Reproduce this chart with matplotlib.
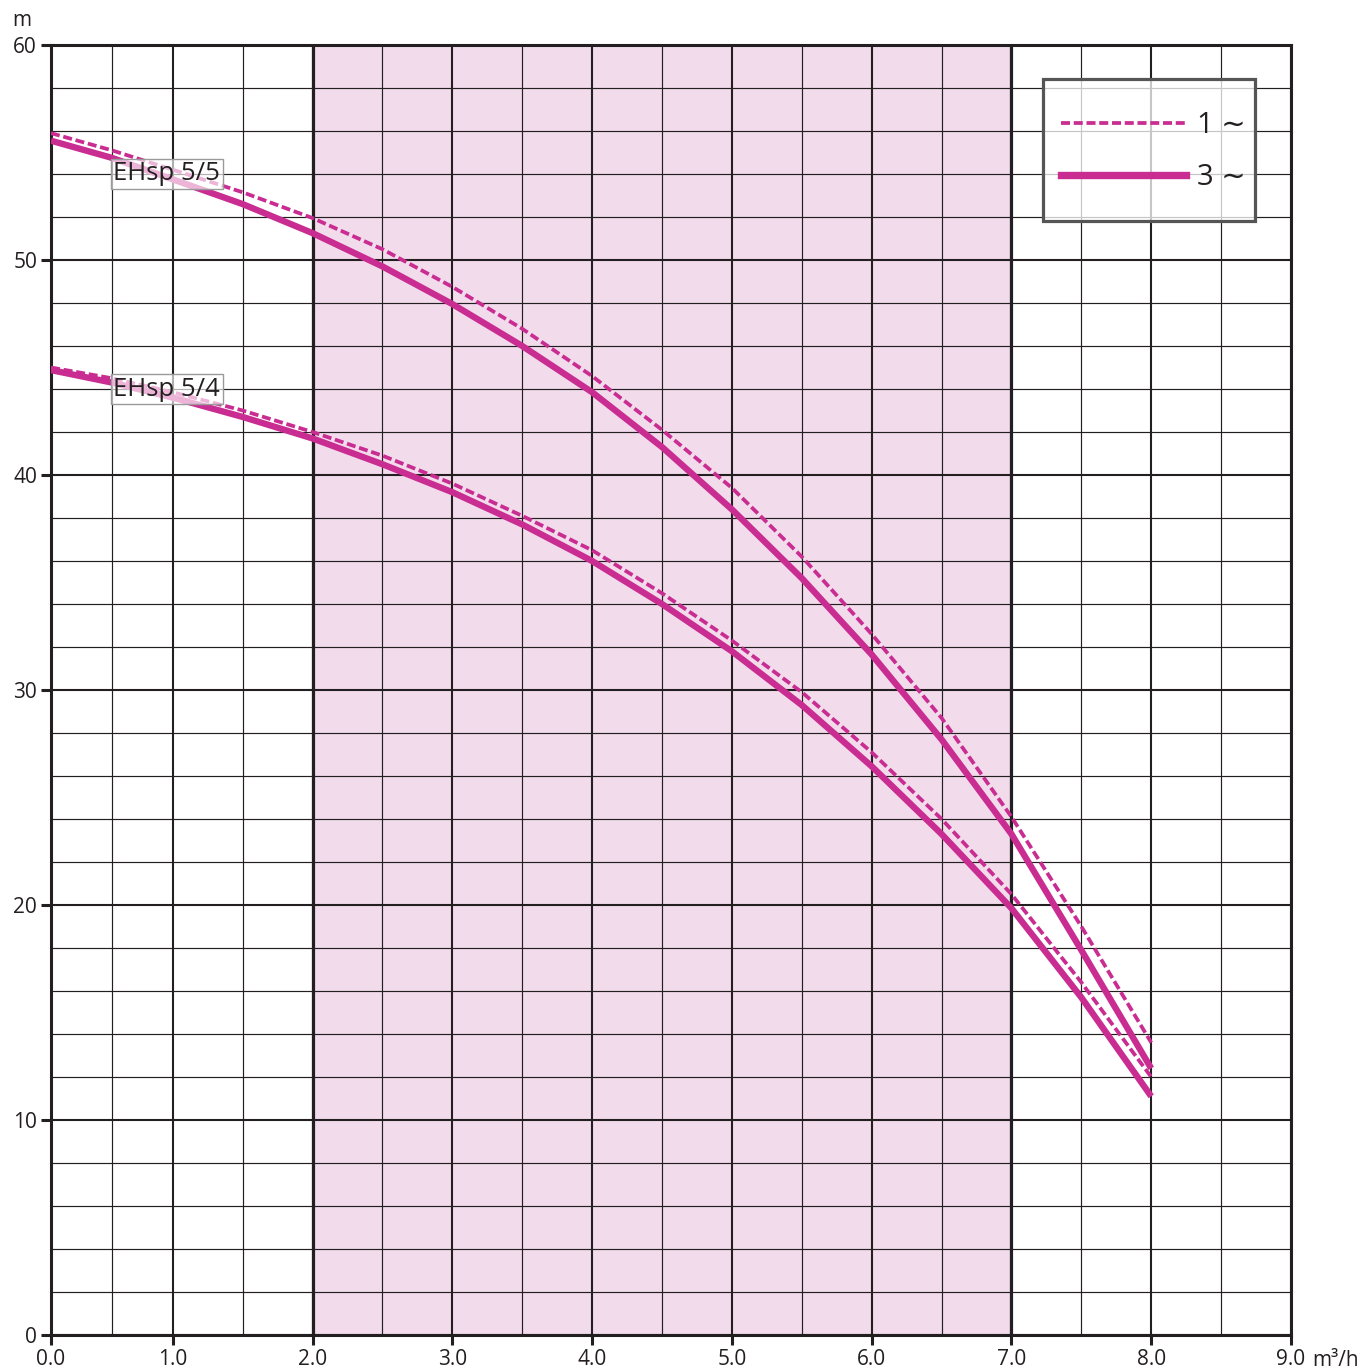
import numpy as np
import matplotlib
matplotlib.use("Agg")
import matplotlib.pyplot as plt
from matplotlib.lines import Line2D
from matplotlib.patches import Rectangle

plt.rcParams['font.family'] = ['Open Sans', 'DejaVu Sans']

# ---- data ----
flow = [0.0, 0.5, 1.0, 1.5, 2.0, 2.5, 3.0, 3.5, 4.0, 4.5, 5.0, 5.5, 6.0, 6.5, 7.0, 7.5, 8.0]
h55_3ph = [55.55, 54.75, 53.75, 52.6, 51.25, 49.7, 47.95, 46.0, 43.85, 41.3, 38.4, 35.2, 31.65, 27.7, 23.3, 17.9, 12.4]
h55_1ph = [55.9, 55.1, 54.2, 53.15, 51.95, 50.5, 48.75, 46.8, 44.6, 42.1, 39.4, 36.2, 32.6, 28.7, 24.1, 19.0, 13.6]
h54_3ph = [44.88, 44.3, 43.6, 42.7, 41.7, 40.5, 39.2, 37.7, 36.0, 34.0, 31.8, 29.3, 26.45, 23.3, 19.85, 15.7, 11.1]
h54_1ph = [45.0, 44.5, 43.85, 43.0, 42.0, 40.9, 39.6, 38.1, 36.5, 34.5, 32.3, 29.9, 27.1, 24.0, 20.5, 16.4, 12.0]

x_ticks = [0, 1, 2, 3, 4, 5, 6, 7, 8, 9]
x_ticklabels = ["0.0", "1.0", "2.0", "3.0", "4.0", "5.0", "6.0", "7.0", "8.0", "9.0"]
y_ticks = [0, 10, 20, 30, 40, 50, 60]
band = (2.0, 7.0)
labels = [("EHsp 5/5", 0.95, 54.0), ("EHsp 5/4", 0.95, 44.0)]
legend_labels = ["1 \u223c", "3 \u223c"]

# ---- style ----
CURVE = '#c92d92'
SHADE = '#f2dcec'
GRID = '#231f20'

# first interval (0..1) drawn compressed as in the original
R = 122.0 / 140.0
def fwd(x):
    x = np.asarray(x, dtype=float)
    return np.where(x < 1, x * R, x - 1 + R)
def inv(u):
    u = np.asarray(u, dtype=float)
    return np.where(u < R, u / R, u + 1 - R)

fig = plt.figure(figsize=(13.65, 13.72), dpi=100)
ax = fig.add_axes([51/1365, 1 - 1335/1372, 1240/1365, 1290/1372])
ax.set_xscale('function', functions=(fwd, inv))
ax.set_xlim(0, 9)
ax.set_ylim(0, 60)

ax.axvspan(band[0], band[1], color=SHADE, zorder=0.1, lw=0)

ax.set_xticks(x_ticks)
ax.set_xticklabels(x_ticklabels)
ax.set_xticks(np.arange(0.5, 9, 1.0), minor=True)
ax.set_yticks(y_ticks)
ax.set_yticks([v for v in range(0, 61, 2) if v % 10], minor=True)
ax.set_axisbelow(True)
ax.grid(which='major', color=GRID, lw=1.5)
ax.grid(which='minor', color=GRID, lw=0.85)
for b in band:
    ax.axvline(b, color=GRID, lw=2.3, zorder=0.6)

ax.tick_params(which='major', direction='out', length=7, width=2.2, color=GRID,
               labelsize=15, labelcolor=GRID, pad=3)
ax.tick_params(which='minor', length=0)
for s in ax.spines.values():
    s.set_linewidth(2.2)
    s.set_color(GRID)

ax.plot(flow, h55_1ph, color=CURVE, lw=2.7, dashes=(2.4, 1.0), zorder=3)
ax.plot(flow, h55_3ph, color=CURVE, lw=4.6, zorder=3, solid_capstyle='butt')
ax.plot(flow, h54_1ph, color=CURVE, lw=2.7, dashes=(2.4, 1.0), zorder=3)
ax.plot(flow, h54_3ph, color=CURVE, lw=4.6, zorder=3, solid_capstyle='butt')

for txt, lx, ly in labels:
    ax.text(lx, ly, txt, fontsize=18.5, color=GRID, ha='center', va='center', zorder=4,
            bbox=dict(boxstyle='square,pad=0.1', fc=(1, 1, 1, 0.65), ec='#9a9a9a', lw=1))

# legend frame
frame = Rectangle((0.8, 0.8636), 0.171, 0.11, transform=ax.transAxes,
                  fc=(1, 1, 1, 0.75), ec='#555555', lw=2.3, zorder=5)
ax.add_patch(frame)

handles = [Line2D([], [], color=CURVE, lw=2.7, dashes=(2.4, 1.0)),
           Line2D([], [], color=CURVE, lw=5.3)]
leg = ax.legend(handles, legend_labels, loc='upper left', bbox_to_anchor=(0.8145, 0.949),
                prop={'family': ['Open Sans', 'DejaVu Sans'], 'size': 21},
                handlelength=4.3, handletextpad=0.35, borderpad=0,
                labelspacing=0.8, frameon=False, borderaxespad=0)
leg.set_zorder(6)
for t in leg.get_texts():
    t.set_color(GRID)

fig.text(22/1365, 1 - 20/1372, "m", fontsize=15, color=GRID, ha='center', va='center')
fig.text(1312/1365, 1 - 1361/1372, "m\u00b3/h", fontsize=15, color=GRID, ha='left', va='center')

fig.savefig("out.png", dpi=100)
